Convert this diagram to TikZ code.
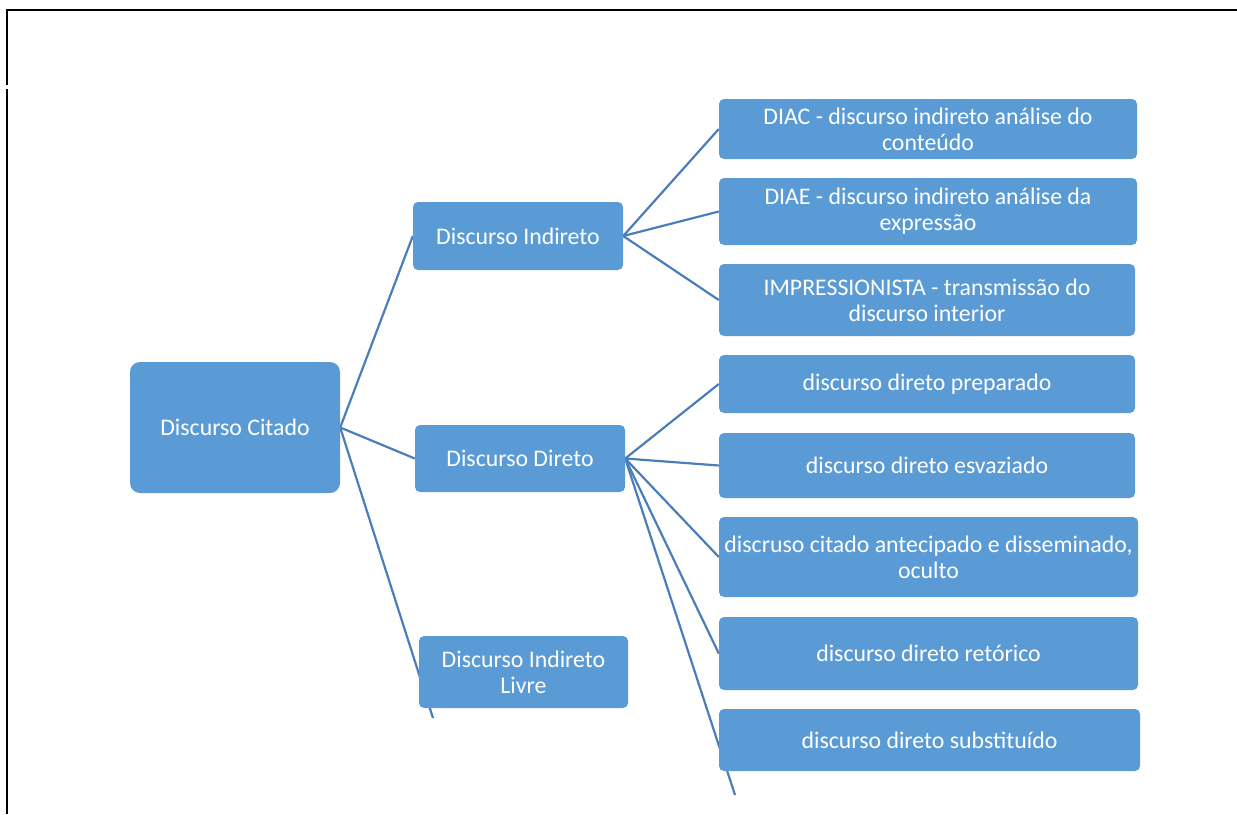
\documentclass[tikz,border=0pt]{standalone}
\usepackage{fontspec}
\setmainfont{Carlito}
\usetikzlibrary{backgrounds}
\definecolor{boxfill}{HTML}{5B9BD5}
\definecolor{linkc}{HTML}{4A7EBB}
\begin{document}
\begin{tikzpicture}[x=1pt,y=-1pt,
  box/.style={fill=boxfill, draw=none, rounded corners=5pt, text=white, align=center,
    font=\fontsize{23.8}{26}\selectfont, inner sep=0pt},
  link/.style={draw=linkc, line width=2.2pt},
  frame/.style={draw=black, line width=2pt}]
\useasboundingbox (0,0) rectangle (1237,814);
\draw[frame] (6,10) -- (1237,10);
\draw[frame] (7,10) -- (7,85);
\draw[frame] (7,89) -- (7,814);

% nodes
\node[box, rounded corners=10pt, minimum width=210, minimum height=131] (cit) at (235,427.5) {Discurso Citado};
\node[box, minimum width=210, minimum height=68] (ind) at (518,236) {Discurso Indireto};
\node[box, minimum width=210, minimum height=67] (dir) at (520,458.5) {Discurso Direto};
\node[box, minimum width=209, minimum height=72] (liv) at (523.5,672) {Discurso Indireto\\Livre};
\node[box, minimum width=418, minimum height=60] (diac) at (928,129) {DIAC - discurso indireto análise do\\conteúdo};
\node[box, minimum width=418, minimum height=67] (diae) at (928,211.5) {DIAE - discurso indireto análise da\\expressão};
\node[box, minimum width=416, minimum height=72] (imp) at (927,300) {IMPRESSIONISTA - transmissão do\\discurso interior};
\node[box, minimum width=416, minimum height=58] (prep) at (927,384) {discurso direto preparado};
\node[box, minimum width=416, minimum height=65] (esv) at (927,465.5) {discurso direto esvaziado};
\node[box, minimum width=419, minimum height=80] (ant) at (928.5,557) {discruso citado antecipado e disseminado,\\oculto};
\node[box, minimum width=419, minimum height=73] (ret) at (928.5,653.5) {discurso direto retórico};
\node[box, minimum width=421, minimum height=62] (sub) at (929.5,740) {discurso direto substituído};
\coordinate (livend) at (433,718);
\coordinate (subend) at (735,795);

% connectors (behind boxes)
\begin{scope}[on background layer]
\draw[link] (cit.east) -- (ind.west);
\draw[link] (cit.east) -- (dir.west);
\draw[link] (cit.east) -- (livend);
\draw[link] (ind.east) -- (diac.west);
\draw[link] (ind.east) -- (diae.west);
\draw[link] (ind.east) -- (imp.west);
\draw[link] (dir.east) -- (prep.west);
\draw[link] (dir.east) -- (esv.west);
\draw[link] (dir.east) -- (ant.west);
\draw[link] (dir.east) -- (ret.west);
\draw[link] (dir.east) -- (subend);
\end{scope}
\end{tikzpicture}
\end{document}
